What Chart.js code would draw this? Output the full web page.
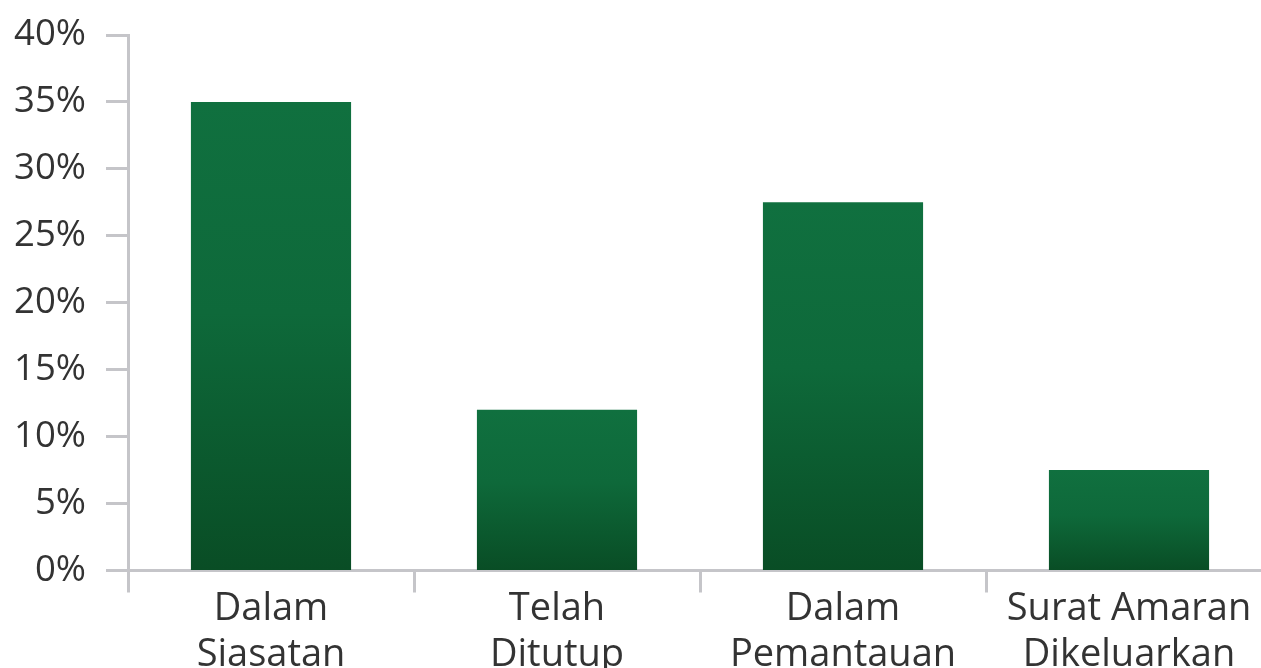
<!DOCTYPE html>
<html>
<head>
<meta charset="utf-8">
<script src="https://cdn.jsdelivr.net/npm/chart.js@4"></script>
<style>
  html, body { margin: 0; padding: 0; background: #fff; overflow: hidden; }
  #wrap { position: absolute; left: 0; top: 0; width: 1274px; height: 668px; }
</style>
</head>
<body>
<div id="wrap"><canvas id="chart"></canvas></div>
<script>
// Categories (two lines each) and values in percent
const categories = [
    ['Dalam', 'Siasatan'],
    ['Telah', 'Ditutup'],
    ['Dalam', 'Pemantauan'],
    ['Surat Amaran', 'Dikeluarkan']
];
const values = [35, 12, 27.5, 7.5];
const yTickLabels = ['0%', '5%', '10%', '15%', '20%', '25%', '30%', '35%', '40%'];

const axisGray = '#c5c5c9';
const textColor = '#333333';

// Vertical gradient for each bar, lighter at the top, darker at the base
function barGradient(context) {
    const chart = context.chart;
    const yScale = chart.scales.y;
    if (!chart.chartArea || !yScale || context.dataIndex === undefined) return '#0f6a3b';
    const top = yScale.getPixelForValue(values[context.dataIndex]);
    const base = yScale.getPixelForValue(0);
    const g = chart.ctx.createLinearGradient(0, top, 0, base);
    g.addColorStop(0, '#10703f');
    g.addColorStop(0.45, '#0e693a');
    g.addColorStop(1, '#094d25');
    return g;
}

const ctx = document.getElementById('chart').getContext('2d');
new Chart(ctx, {
    type: 'bar',
    data: {
        labels: categories,
        datasets: [{
            data: values,
            backgroundColor: barGradient,
            borderWidth: 0,
            categoryPercentage: 1,
            barPercentage: 0.56
        }]
    },
    options: {
        responsive: true,
        maintainAspectRatio: false,
        animation: false,
        layout: { padding: { top: 0, left: 14, right: 2, bottom: 0 } },
        plugins: {
            legend: { display: false },
            tooltip: { enabled: false }
        },
        scales: {
            x: {
                afterFit: (scale) => { scale.height = 97.5; },
                grid: {
                    drawOnChartArea: false,
                    offset: true,
                    tickLength: 22,
                    tickColor: axisGray,
                    tickWidth: 3
                },
                border: { color: axisGray, width: 3 },
                ticks: {
                    color: textColor,
                    padding: -6,
                    maxRotation: 0,
                    autoSkip: false,
                    font: { family: "'Open Sans', sans-serif", size: 38, lineHeight: 1.2 }
                }
            },
            y: {
                min: 0,
                max: 40,
                afterFit: (scale) => {
                    scale.width = 114;
                    scale.paddingTop = 35;
                    scale.paddingBottom = 0;
                },
                grid: {
                    drawOnChartArea: false,
                    tickLength: 22,
                    tickColor: axisGray,
                    tickWidth: 3
                },
                border: { color: axisGray, width: 3 },
                ticks: {
                    stepSize: 5,
                    color: textColor,
                    padding: 20,
                    font: { family: "'Open Sans', sans-serif", size: 36.5 },
                    callback: (v, i) => yTickLabels[i]
                }
            }
        }
    }
});
</script>
</body>
</html>
